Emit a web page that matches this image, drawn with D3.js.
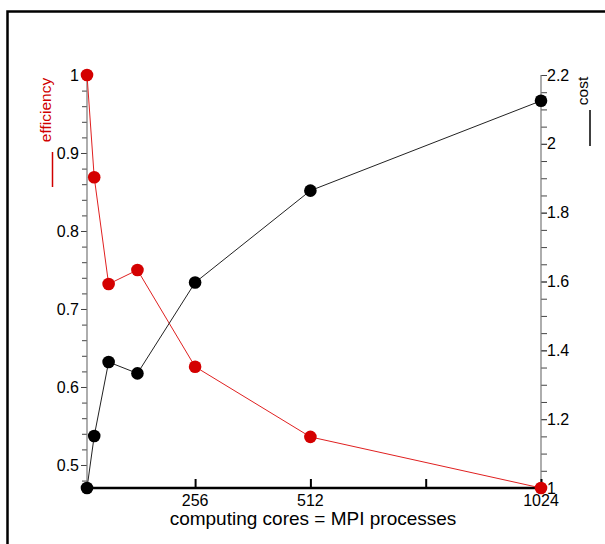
<!DOCTYPE html>
<html>
<head>
<meta charset="utf-8">
<script src="https://cdn.jsdelivr.net/npm/d3@7"></script>
<style>
  body { margin: 0; background: #fff; }
  text { font-family: Arial, "Liberation Sans", sans-serif; }
</style>
</head>
<body>
<div id="chart"></div>
<script>
// data
var cores = [16, 32, 64, 128, 256, 512, 1024];
var efficiency = [1.0, 0.869, 0.732, 0.750, 0.626, 0.536, 0.4705];
var cost = [1.0, 1.151, 1.366, 1.333, 1.597, 1.864, 2.125];
var xTicks = [256, 512, 768, 1024];
var xTickLabels = ["256", "512", "", "1024"];
var effTicks = [0.5, 0.6, 0.7, 0.8, 0.9, 1];
var costTicks = [1, 1.2, 1.4, 1.6, 1.8, 2, 2.2];

var width = 605, height = 544;
var margin = { top: 75, right: 64, bottom: 56, left: 87 };

var svg = d3.select("#chart").append("svg")
    .attr("width", width)
    .attr("height", height);

// frame
svg.append("rect")
    .attr("x", 7.5).attr("y", 11.5)
    .attr("width", 620).attr("height", 560)
    .attr("fill", "none")
    .attr("stroke", "#000")
    .attr("stroke-width", 2.5);

var x = d3.scaleLinear().domain([16, 1024]).range([margin.left, width - margin.right]);
var yEff = d3.scaleLinear().domain([0.4705, 1]).range([height - margin.bottom, margin.top]);
var yCost = d3.scaleLinear().domain([1, 2.2]).range([height - margin.bottom, margin.top]);

var x0 = margin.left, x1 = width - margin.right, yb = height - margin.bottom;

function styleAxis(g) {
    g.selectAll(".domain").remove();
    g.selectAll("line").attr("stroke", "#444");
    g.selectAll("text").attr("font-size", 16).attr("fill", "#000");
}

/* ****** left axis (efficiency) ****** */
svg.append("g").attr("transform", "translate(" + x0 + ",0)")
    .call(d3.axisLeft(yEff).tickValues(d3.range(0.48, 1.0001, 0.02)).tickSize(5).tickFormat(""))
    .call(styleAxis);
svg.append("g").attr("transform", "translate(" + x0 + ",0)")
    .call(d3.axisLeft(yEff).tickValues(effTicks).tickSize(6).tickPadding(2).tickFormat(d3.format("")))
    .call(styleAxis);
svg.append("line").attr("x1", x0).attr("x2", x0).attr("y1", yEff(1)).attr("y2", yb)
    .attr("stroke", "#777").attr("stroke-width", 1.2);

/* ****** right axis (cost) ****** */
svg.append("g").attr("transform", "translate(" + x1 + ",0)")
    .call(d3.axisRight(yCost).tickValues(d3.range(1, 2.2001, 0.05)).tickSize(6).tickFormat(""))
    .call(styleAxis);
svg.append("g").attr("transform", "translate(" + x1 + ",0)")
    .call(d3.axisRight(yCost).tickValues(costTicks).tickSize(6).tickPadding(0).tickFormat(d3.format("")))
    .call(styleAxis);
svg.append("line").attr("x1", x1).attr("x2", x1).attr("y1", yCost(2.2)).attr("y2", yb)
    .attr("stroke", "#777").attr("stroke-width", 1.2);

/* ****** bottom axis ****** */
var gb = svg.append("g").attr("transform", "translate(0," + yb + ")");
gb.call(d3.axisTop(x).tickValues(xTicks).tickSize(9).tickFormat(""));
gb.selectAll(".domain").remove();
gb.selectAll("line").attr("stroke", "#000").attr("stroke-width", 2);
gb.selectAll(".xlab").data(xTicks).enter().append("text")
    .attr("class", "xlab")
    .attr("x", function(d) { return x(d); })
    .attr("y", 18)
    .attr("text-anchor", "middle")
    .attr("font-size", 16)
    .attr("fill", "#000")
    .text(function(d, i) { return xTickLabels[i]; });
gb.append("line").attr("x1", x0).attr("x2", x1).attr("y1", 0).attr("y2", 0)
    .attr("stroke", "#000").attr("stroke-width", 2.5);

svg.append("text")
    .attr("x", 313).attr("y", 525)
    .attr("text-anchor", "middle")
    .attr("font-size", 19)
    .text("computing cores = MPI processes");

/* ****** axis titles + legend bars ****** */
svg.append("text")
    .attr("transform", "translate(51,110) rotate(-90)")
    .attr("text-anchor", "middle")
    .attr("font-size", 15.5)
    .attr("fill", "#d00000")
    .text("efficiency");
svg.append("line").attr("x1", 52.5).attr("x2", 52.5).attr("y1", 152).attr("y2", 187)
    .attr("stroke", "#d00000").attr("stroke-width", 1.5);

svg.append("text")
    .attr("transform", "translate(588,91) rotate(-90)")
    .attr("text-anchor", "middle")
    .attr("font-size", 15.5)
    .attr("fill", "#000")
    .text("cost");
svg.append("line").attr("x1", 590).attr("x2", 590).attr("y1", 110).attr("y2", 146)
    .attr("stroke", "#000").attr("stroke-width", 1.5);

/* ****** series ****** */
var effLine = d3.line().x(function(d, i) { return x(cores[i]); }).y(function(d) { return yEff(d); });
var costLine = d3.line().x(function(d, i) { return x(cores[i]); }).y(function(d) { return yCost(d); });

svg.append("path").datum(efficiency).attr("d", effLine)
    .attr("fill", "none").attr("stroke", "#e02020").attr("stroke-width", 1);
svg.append("path").datum(cost).attr("d", costLine)
    .attr("fill", "none").attr("stroke", "#222").attr("stroke-width", 1);

svg.selectAll(".eff").data(efficiency).enter().append("circle")
    .attr("class", "eff")
    .attr("cx", function(d, i) { return x(cores[i]); })
    .attr("cy", function(d) { return yEff(d); })
    .attr("r", 6.3)
    .attr("fill", "#d40000");
svg.selectAll(".cost").data(cost).enter().append("circle")
    .attr("class", "cost")
    .attr("cx", function(d, i) { return x(cores[i]); })
    .attr("cy", function(d) { return yCost(d); })
    .attr("r", 6.3)
    .attr("fill", "#000");
</script>
</body>
</html>
